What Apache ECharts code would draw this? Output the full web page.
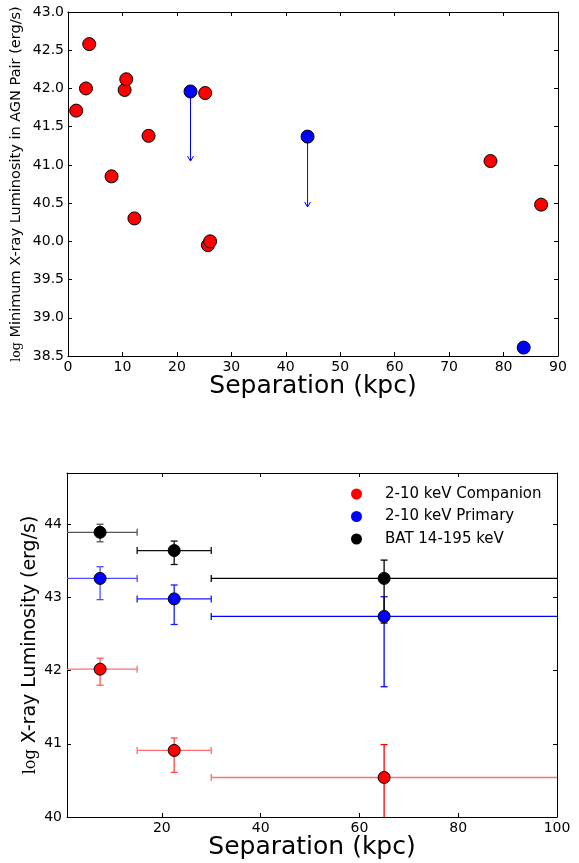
<!DOCTYPE html>
<html><head><meta charset="utf-8">
<script src="https://cdn.jsdelivr.net/npm/echarts@6/dist/echarts.min.js"></script>
<style>html,body{margin:0;padding:0;background:#fff}#c{width:579px;height:863px}</style>
</head><body><div id="c"></div>
<script>
// ---------- Top panel data ----------
const companionSep = [1.5, 3.3, 3.9, 8.0, 10.4, 10.7, 12.2, 14.8, 25.2, 25.7, 26.1, 77.6, 86.9];
const companionLum = [41.71, 42.00, 42.58, 40.85, 41.98, 42.12, 40.30, 41.38, 41.94, 39.95, 40.00, 41.05, 40.48];
const primarySep = [22.5, 44.0, 83.7];
const primaryLum = [41.96, 41.37, 38.61];
const arrowSep = [22.5, 44.0];
const arrowFrom = [41.96, 41.37];
const arrowTo = [41.05, 40.45];
const topXTicks = [0, 10, 20, 30, 40, 50, 60, 70, 80, 90];
const topYTicks = [38.5, 39.0, 39.5, 40.0, 40.5, 41.0, 41.5, 42.0, 42.5, 43.0];

// ---------- Bottom panel data ----------
const binCenter = [7.5, 22.5, 65];
const binLo = [0, 15, 30];
const binHi = [15, 30, 100];
const compY = [42.02, 40.91, 40.54];
const compLo = [41.80, 40.61, 39.5];
const compHi = [42.17, 41.08, 40.99];
const primY = [43.26, 42.98, 42.74];
const primLo = [42.97, 42.63, 41.78];
const primHi = [43.42, 43.17, 43.01];
const batY = [43.89, 43.64, 43.26];
const batLo = [43.76, 43.45, 42.65];
const batHi = [44.00, 43.77, 43.51];
const botXTicks = [20, 40, 60, 80, 100];
const botYTicks = [40, 41, 42, 43, 44];
const legendNames = ['2-10 keV Companion', '2-10 keV Primary', 'BAT 14-195 keV'];

const FONT = 'DejaVu Sans';
const AX = '#000';

function zip2(a, b) { return a.map((v, i) => [v, b[i]]); }
function errData(y, lo, hi) {
  return binCenter.map((x, i) => [x, y[i], binLo[i], binHi[i], lo[i], hi[i]]);
}

function errRender(hCols, vCols) {
  return function (params, api) {
    const cs = params.coordSys;
    const L = cs.x, R = cs.x + cs.width, T = cs.y, B = cs.y + cs.height;
    const x = api.value(0), y = api.value(1);
    const c = api.coord([x, y]);
    const pxlo = api.coord([api.value(2), y])[0];
    const pxhi = api.coord([api.value(3), y])[0];
    const pylo = api.coord([x, api.value(4)])[1];
    const pyhi = api.coord([x, api.value(5)])[1];
    const cl = (v, a, b) => Math.max(a, Math.min(b, v));
    const i = params.dataIndex;
    const hc = hCols[i], vc = vCols[i];
    const cap = 3.5, lw = 1.3;
    const ch = [];
    ch.push({ type: 'line', shape: { x1: cl(pxlo, L, R), y1: c[1], x2: cl(pxhi, L, R), y2: c[1] }, style: { stroke: hc, lineWidth: lw } });
    if (pxlo > L + 0.5) ch.push({ type: 'line', shape: { x1: pxlo, y1: c[1] - cap, x2: pxlo, y2: c[1] + cap }, style: { stroke: hc, lineWidth: lw } });
    if (pxhi < R - 0.5) ch.push({ type: 'line', shape: { x1: pxhi, y1: c[1] - cap, x2: pxhi, y2: c[1] + cap }, style: { stroke: hc, lineWidth: lw } });
    ch.push({ type: 'line', shape: { x1: c[0], y1: cl(pyhi, T, B), x2: c[0], y2: cl(pylo, T, B) }, style: { stroke: vc, lineWidth: lw } });
    if (pyhi > T + 0.5) ch.push({ type: 'line', shape: { x1: c[0] - cap, y1: pyhi, x2: c[0] + cap, y2: pyhi }, style: { stroke: vc, lineWidth: lw } });
    if (pylo < B - 0.5) ch.push({ type: 'line', shape: { x1: c[0] - cap, y1: pylo, x2: c[0] + cap, y2: pylo }, style: { stroke: vc, lineWidth: lw } });
    return { type: 'group', children: ch };
  };
}

function arrowRender(params, api) {
  const p0 = api.coord([api.value(0), api.value(1)]);
  const p1 = api.coord([api.value(0), api.value(2)]);
  const st = { stroke: '#0000ff', lineWidth: 1, fill: null };
  return {
    type: 'group', children: [
      { type: 'line', shape: { x1: p0[0], y1: p0[1], x2: p1[0], y2: p1[1] }, style: st },
      { type: 'polyline', shape: { points: [[p1[0] - 3, p1[1] - 5], [p1[0], p1[1]], [p1[0] + 3, p1[1] - 5]] }, style: st }
    ]
  };
}

const labelStyle = { fontFamily: FONT, fontSize: 14, color: '#000' };
const lineStyle = { color: AX, width: 1 };

function mainAxis(extra) {
  return Object.assign({
    type: 'value',
    nameMoveOverlap: false,
    axisLine: { show: true, onZero: false, lineStyle },
    axisTick: { show: true, inside: true, length: 4, lineStyle },
    splitLine: { show: false },
    axisLabel: Object.assign({}, labelStyle)
  }, extra);
}
function mirrorAxis(extra) {
  return Object.assign({
    type: 'value',
    axisLine: { show: true, onZero: false, lineStyle },
    axisTick: { show: true, inside: true, length: 4, lineStyle },
    splitLine: { show: false },
    axisLabel: { show: false }
  }, extra);
}

const option = {
  animation: false,
  backgroundColor: '#fff',
  grid: [
    { left: 68, top: 12, width: 490, height: 344 },
    { left: 67, top: 473, width: 490, height: 344 }
  ],
  xAxis: [
    mainAxis({ gridIndex: 0, position: 'bottom', min: 0, max: 90, interval: 10,
      axisLabel: Object.assign({}, labelStyle, { margin: 4 }),
      name: 'Separation (kpc)', nameLocation: 'middle', nameGap: 18,
      nameTextStyle: { fontFamily: FONT, fontSize: 25, color: '#000', verticalAlign: 'top' } }),
    mirrorAxis({ gridIndex: 0, position: 'top', min: 0, max: 90, interval: 10 }),
    mainAxis({ gridIndex: 1, position: 'bottom', min: 0.8, max: 100,
      axisTick: { show: true, inside: true, length: 4, lineStyle, customValues: botXTicks },
      axisLabel: Object.assign({}, labelStyle, { margin: 4, customValues: botXTicks }),
      name: 'Separation (kpc)', nameLocation: 'middle', nameGap: 18,
      nameTextStyle: { fontFamily: FONT, fontSize: 25, color: '#000', verticalAlign: 'top' } }),
    mirrorAxis({ gridIndex: 1, position: 'top', min: 0.8, max: 100,
      axisTick: { show: true, inside: true, length: 4, lineStyle, customValues: botXTicks } })
  ],
  yAxis: [
    mainAxis({ gridIndex: 0, position: 'left', min: 38.5, max: 43, interval: 0.5,
      axisLabel: Object.assign({}, labelStyle, { margin: 4, formatter: v => v.toFixed(1) }),
      name: '{l|log} Minimum X-ray Luminosity in AGN Pair (erg/s)', nameLocation: 'middle', nameGap: 44,
      nameTextStyle: { fontFamily: FONT, fontSize: 14.5, color: '#000',
        rich: { l: { fontFamily: 'DejaVu Serif', fontSize: 12.5, color: '#000' } } } }),
    mirrorAxis({ gridIndex: 0, position: 'right', min: 38.5, max: 43, interval: 0.5 }),
    mainAxis({ gridIndex: 1, position: 'left', min: 40, max: 44.7,
      axisTick: { show: true, inside: true, length: 4, lineStyle, customValues: botYTicks },
      axisLabel: Object.assign({}, labelStyle, { margin: 5, customValues: botYTicks }),
      name: '{l|log} X-ray Luminosity (erg/s)', nameLocation: 'middle', nameGap: 27,
      nameTextStyle: { fontFamily: FONT, fontSize: 19, color: '#000',
        rich: { l: { fontFamily: 'DejaVu Serif', fontSize: 16, color: '#000' } } } }),
    mirrorAxis({ gridIndex: 1, position: 'right', min: 40, max: 44.7,
      axisTick: { show: true, inside: true, length: 4, lineStyle, customValues: botYTicks } })
  ],
  legend: {
    data: legendNames,
    orient: 'vertical',
    left: 346, top: 481,
    icon: 'circle', itemWidth: 11, itemHeight: 11, itemGap: 6.5,
    itemStyle: { borderWidth: 0 },
    textStyle: { fontFamily: FONT, fontSize: 15, color: '#000', lineHeight: 16, padding: [0, 0, 0, 18] }
  },
  series: [
    { type: 'custom', xAxisIndex: 0, yAxisIndex: 0, renderItem: arrowRender,
      data: arrowSep.map((x, i) => [x, arrowFrom[i], arrowTo[i]]), z: 2, silent: true },
    { type: 'scatter', name: 'companion-top', xAxisIndex: 0, yAxisIndex: 0, symbolSize: 13,
      itemStyle: { color: '#ff0000', borderColor: '#000', borderWidth: 1, opacity: 1 },
      data: zip2(companionSep, companionLum), z: 3, clip: false },
    { type: 'scatter', name: 'primary-top', xAxisIndex: 0, yAxisIndex: 0, symbolSize: 13,
      itemStyle: { color: '#0000ff', borderColor: '#000', borderWidth: 1, opacity: 1 },
      data: zip2(primarySep, primaryLum), z: 3, clip: false },

    { type: 'custom', xAxisIndex: 2, yAxisIndex: 2, z: 2, silent: true,
      renderItem: errRender(['#ff6e6e', '#ff6e6e', '#ff7070'],
                            ['#ff5a5a', '#ff4a4a', '#ff0000']),
      data: errData(compY, compLo, compHi) },
    { type: 'custom', xAxisIndex: 2, yAxisIndex: 2, z: 2, silent: true,
      renderItem: errRender(['#4d4dff', '#1a1aff', '#0000ff'],
                            ['#4d4dff', '#1a1aff', '#0000ff']),
      data: errData(primY, primLo, primHi) },
    { type: 'custom', xAxisIndex: 2, yAxisIndex: 2, z: 2, silent: true,
      renderItem: errRender(['#555555', '#111111', '#000000'],
                            ['#555555', '#111111', '#000000']),
      data: errData(batY, batLo, batHi) },
    { type: 'scatter', name: legendNames[0], xAxisIndex: 2, yAxisIndex: 2, symbolSize: 12,
      itemStyle: { color: '#ff0000', borderColor: '#000', borderWidth: 1, opacity: 1 },
      data: zip2(binCenter, compY), z: 3 },
    { type: 'scatter', name: legendNames[1], xAxisIndex: 2, yAxisIndex: 2, symbolSize: 12,
      itemStyle: { color: '#0000ff', borderColor: '#000', borderWidth: 1, opacity: 1 },
      data: zip2(binCenter, primY), z: 3 },
    { type: 'scatter', name: legendNames[2], xAxisIndex: 2, yAxisIndex: 2, symbolSize: 12,
      itemStyle: { color: '#000000', borderColor: '#000', borderWidth: 1, opacity: 1 },
      data: zip2(binCenter, batY), z: 3 }
  ]
};

const chart = echarts.init(document.getElementById('c'), null, { renderer: 'canvas', width: 579, height: 863 });
chart.setOption(option);
</script>
</body></html>
